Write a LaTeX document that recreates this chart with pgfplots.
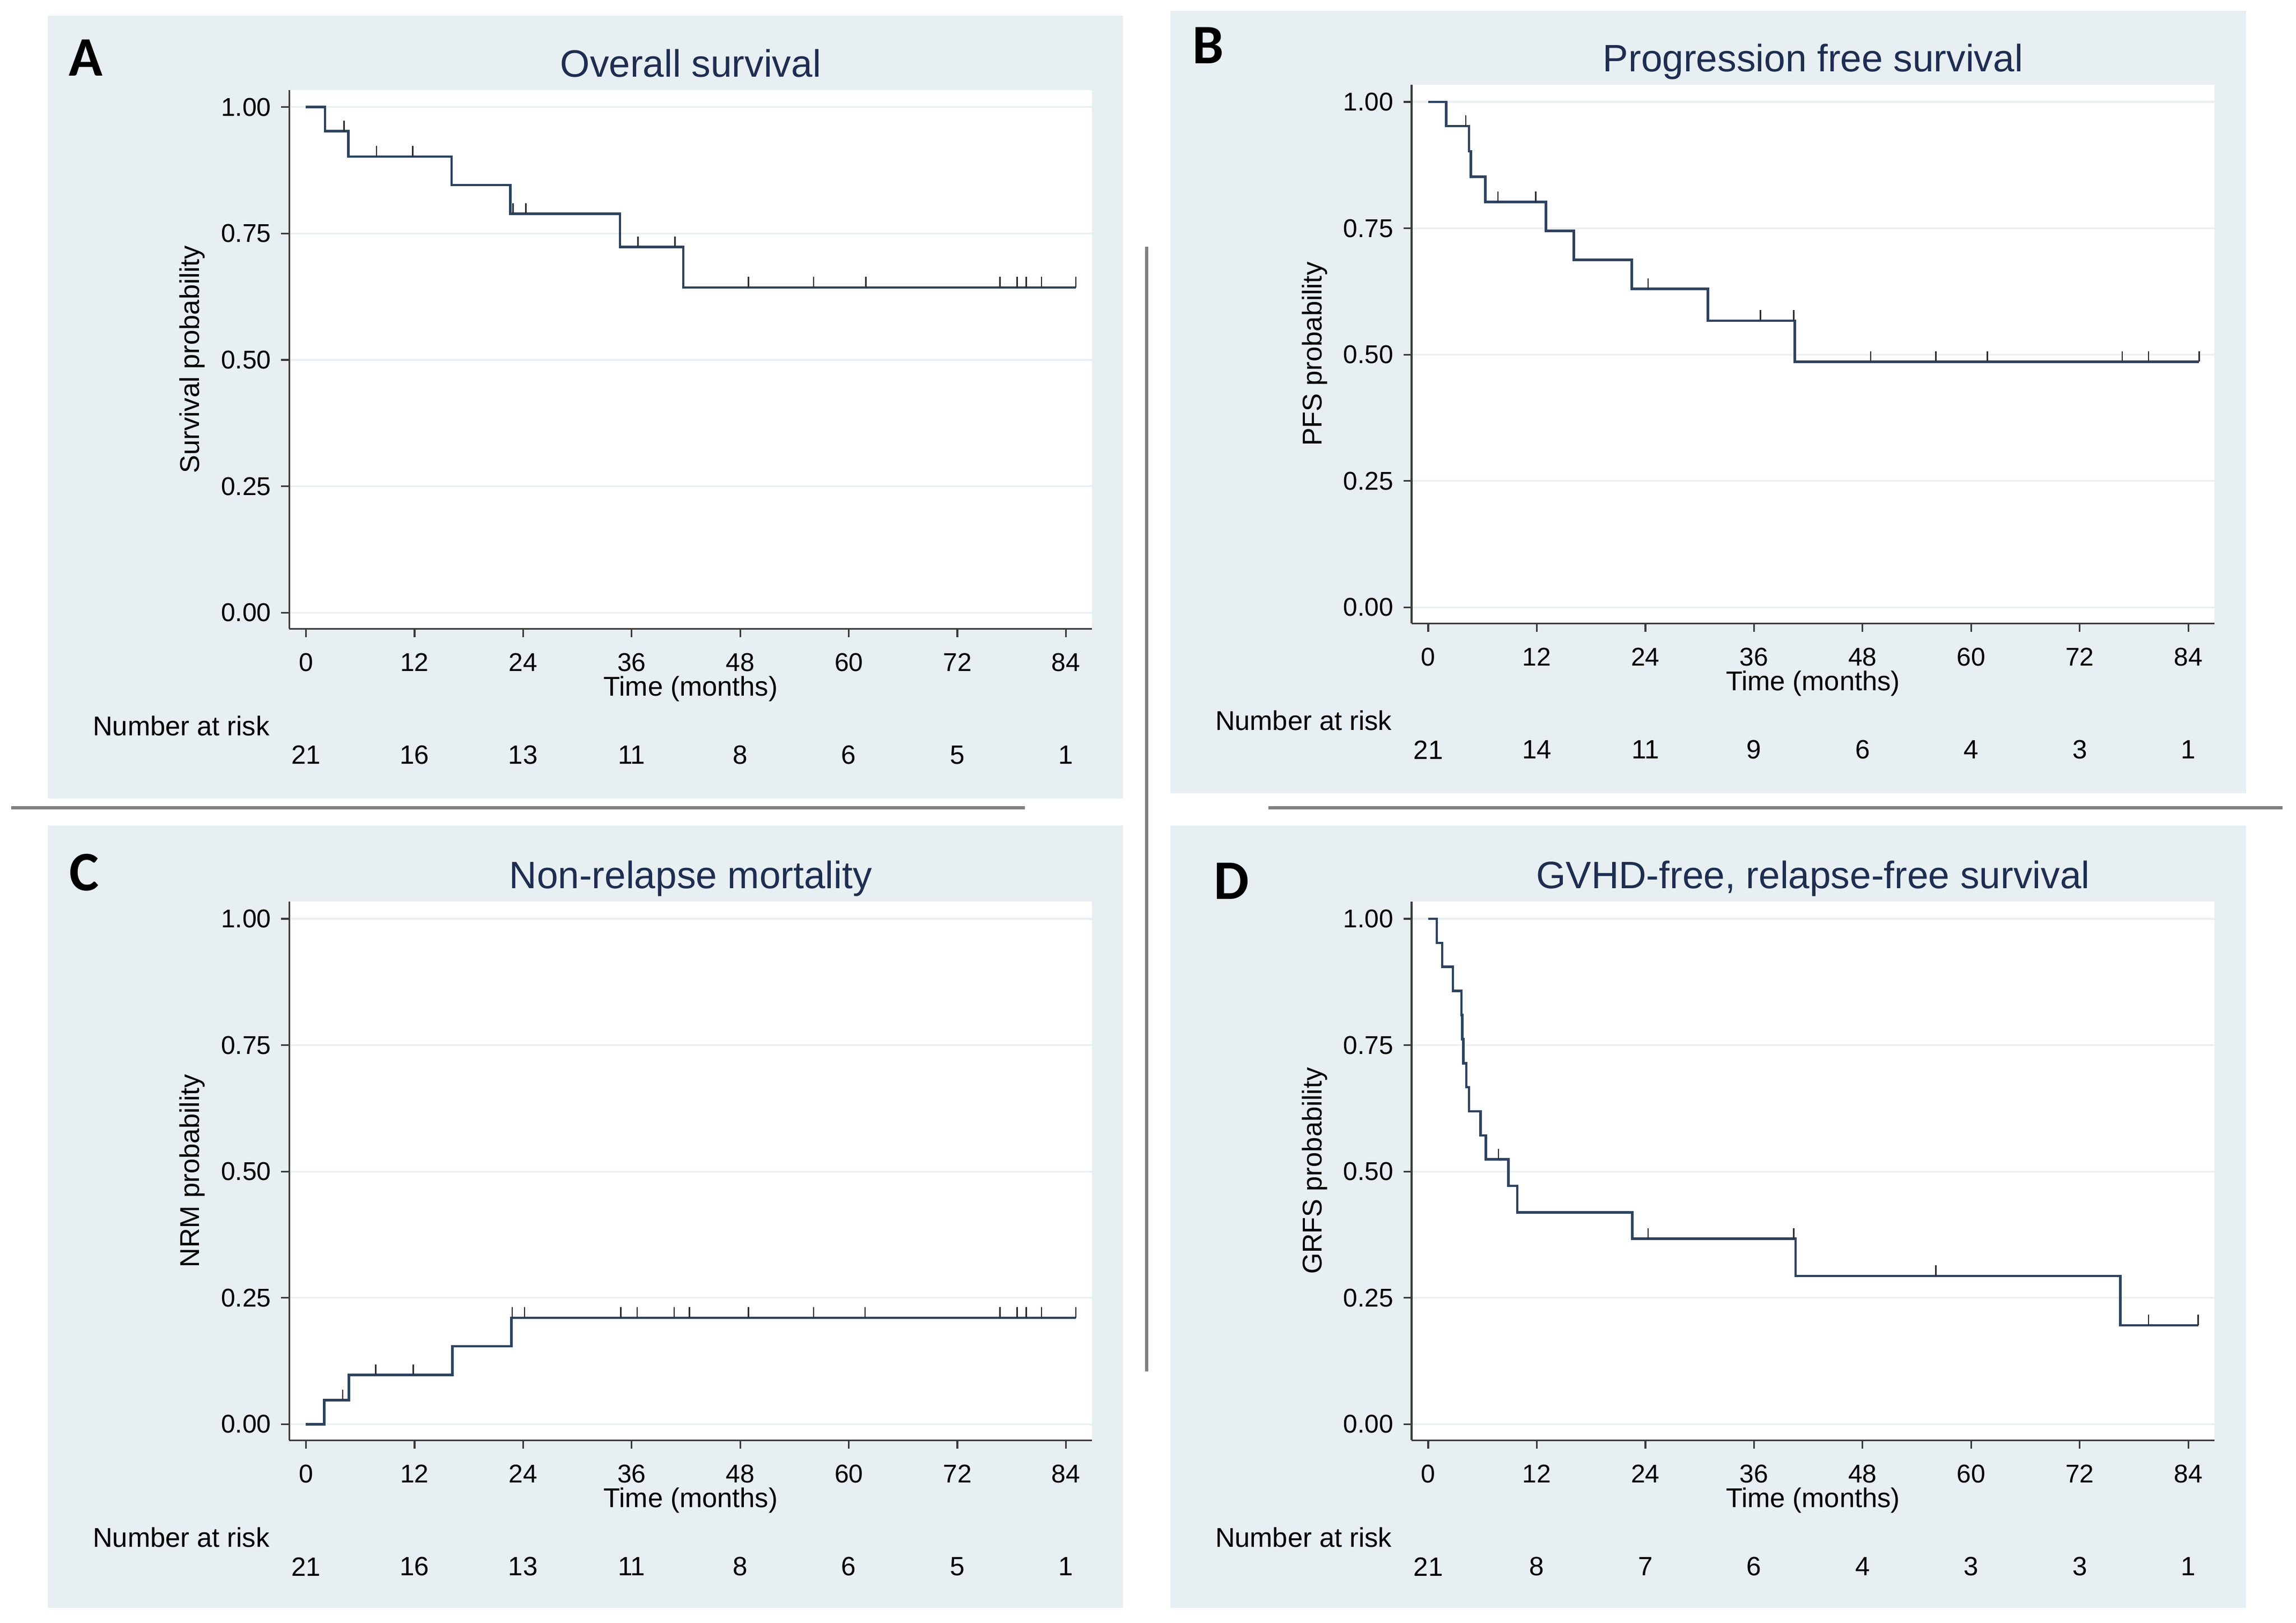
\documentclass[border=0pt]{standalone}
\usepackage{fontspec}
\setmainfont{Liberation Sans}
\newfontfamily\carlito{Carlito}
\usepackage{pgfplots}
\usepackage{pgfplotstable}
\pgfplotsset{compat=1.18}

\definecolor{panelbg}{RGB}{232,239,242}
\definecolor{gridc}{RGB}{234,239,242}
\definecolor{kmline}{RGB}{46,67,95}
\definecolor{axisc}{RGB}{60,60,60}
\definecolor{titlec}{RGB}{30,45,80}
\definecolor{sepc}{RGB}{128,128,128}
\definecolor{censc}{RGB}{45,45,50}

% ---------- data ----------
\pgfplotstableread{
t s
0 1.00000
2.1 0.95238
4.7 0.90226
16.1 0.84586
22.6 0.78947
34.7 0.72368
41.7 0.64327
85.1 0.64327
}\osA
\pgfplotstableread{
t s
4.2 0.95238
7.8 0.90226
11.8 0.90226
22.9 0.78947
24.3 0.78947
36.7 0.72368
40.8 0.72368
48.9 0.64327
56.1 0.64327
61.9 0.64327
76.7 0.64327
78.6 0.64327
79.6 0.64327
81.3 0.64327
85.1 0.64327
}\osAc
\pgfplotstableread{
t s
0 1.00000
2.0 0.95238
4.5 0.90226
4.7 0.85213
6.3 0.80201
13.0 0.74472
16.1 0.68744
22.5 0.63015
30.9 0.56714
40.5 0.48612
85.2 0.48612
}\pfsB
\pgfplotstableread{
t s
4.15 0.95238
7.7 0.80201
11.9 0.80201
24.3 0.63015
36.7 0.56714
40.4 0.56714
48.9 0.48612
56.1 0.48612
61.8 0.48612
76.7 0.48612
79.6 0.48612
85.2 0.48612
}\pfsBc
\pgfplotstableread{
t s
0 0.00000
2.0 0.04762
4.76 0.09774
16.2 0.15414
22.7 0.21053
85.1 0.21053
}\nrmC
\pgfplotstableread{
t s
4.06 0.04762
7.7 0.09774
11.85 0.09774
22.8 0.21053
24.15 0.21053
34.8 0.21053
36.6 0.21053
40.7 0.21053
42.4 0.21053
48.9 0.21053
56.1 0.21053
61.8 0.21053
76.7 0.21053
78.6 0.21053
79.6 0.21053
81.3 0.21053
85.1 0.21053
}\nrmCc
\pgfplotstableread{
t s
0 1.00000
0.94 0.95238
1.53 0.90476
2.73 0.85714
3.67 0.80952
3.75 0.76190
3.87 0.71429
4.2 0.66667
4.5 0.61905
5.78 0.57143
6.38 0.52381
8.85 0.47143
9.84 0.41905
22.56 0.36667
40.6 0.29333
76.5 0.19556
85.1 0.19556
}\grfsD
\pgfplotstableread{
t s
7.76 0.52381
24.3 0.36667
40.4 0.36667
56.1 0.29333
79.6 0.19556
85.1 0.19556
}\grfsDc

\pgfdeclareplotmark{cens}{%
  \pgfpathmoveto{\pgfpointorigin}%
  \pgfpathlineto{\pgfpoint{0pt}{3.6pt}}%
  \pgfusepathqstroke}

\tikzset{
  titlenode/.style={anchor=base, inner sep=0pt, text=titlec,
    font=\fontsize{13}{15}\selectfont},
  risklab/.style={anchor=west, inner sep=0pt, font=\fontsize{9.25}{11}\selectfont},
  risknum/.style={anchor=center, inner sep=0pt, font=\fontsize{9}{11}\selectfont},
  letter/.style={font=\carlito\bfseries\fontsize{19}{22}\selectfont, inner sep=0pt},
}

\pgfplotsset{
  km/.style={
    scale only axis, width=273.5pt, height=183.5pt,
    xmin=-1.85, xmax=86.9, ymin=-0.032, ymax=1.034,
    axis x line*=bottom, axis y line*=left,
    axis line style={draw=axisc, line width=0.6pt, -},
    xtick={0,12,24,36,48,60,72,84},
    ytick={0,0.25,0.5,0.75,1},
    yticklabel style={/pgf/number format/fixed,
      /pgf/number format/precision=2,
      /pgf/number format/fixed zerofill,
      anchor=east, inner sep=0pt, xshift=-3.2pt},
    xticklabel style={anchor=north, inner sep=0pt, yshift=-5.4pt},
    /pgf/number format/assume math mode=true,
    ticklabel style={font=\fontsize{8.75}{10}\selectfont, text=black},
    ymajorgrids, grid style={draw=gridc, line width=0.6pt},
    tick style={draw=axisc, line width=0.6pt},
    tick align=outside, major tick length=2.8pt,
    axis background/.style={fill=white},
    clip=false,
    xlabel={Time (months)},
    xlabel style={at={(axis description cs:0.5,-0.1117)}, anchor=center,
      font=\fontsize{9.25}{11}\selectfont, inner sep=0pt},
    ylabel style={at={(axis description cs:-0.1207,0.5)}, anchor=center,
      font=\fontsize{9.25}{11}\selectfont, inner sep=0pt},
  },
}

\newcommand{\riskrow}[8]{%
  \node[risklab] at (axis cs:-23.6,-0.2236) {Number at risk};
  \node[risknum] at (axis cs:0,-0.2817) {#1};
  \node[risknum] at (axis cs:12,-0.2817) {#2};
  \node[risknum] at (axis cs:24,-0.2817) {#3};
  \node[risknum] at (axis cs:36,-0.2817) {#4};
  \node[risknum] at (axis cs:48,-0.2817) {#5};
  \node[risknum] at (axis cs:60,-0.2817) {#6};
  \node[risknum] at (axis cs:72,-0.2817) {#7};
  \node[risknum] at (axis cs:84,-0.2817) {#8};
}

\begin{document}
\begin{tikzpicture}
\useasboundingbox (0,0) rectangle (782pt,552.6pt);
\fill[white] (0,0) rectangle (782pt,552.6pt);
% panel backgrounds
\fill[panelbg] (16.25pt,280.65pt) rectangle (382.5pt,547.25pt);
\fill[panelbg] (398.5pt,282.5pt) rectangle (765pt,549pt);
\fill[panelbg] (16.25pt,5pt) rectangle (382.5pt,271.5pt);
\fill[panelbg] (398.5pt,5pt) rectangle (765pt,271.5pt);
% separators
\draw[sepc, line width=1.1pt] (3.75pt,277.5pt) -- (349pt,277.5pt);
\draw[sepc, line width=1.1pt] (432pt,277.5pt) -- (777.5pt,277.5pt);
\draw[sepc, line width=1.1pt] (390.5pt,468.5pt) -- (390.5pt,85.5pt);
% panel letters
\node[letter] at (29.3pt,532.9pt) {A};
\node[letter] at (411.5pt,537.2pt) {B};
\node[letter] at (28.65pt,255.5pt) {C};
\node[letter] at (419.5pt,252.5pt) {D};

% A
\begin{axis}[km, at={(98.5pt,338.45pt)}, ylabel={Survival probability}]
\addplot[const plot, draw=kmline, line width=0.85pt] table[x=t,y=s] {\osA};
\addplot[only marks, mark=cens, mark options={draw=censc, line width=0.5pt}] table[x=t,y=s] {\osAc};
\node[titlenode] at (axis cs:42.525,1.06) {Overall survival};
\riskrow{21}{16}{13}{11}{8}{6}{5}{1}
\end{axis}

% B
\begin{axis}[km, at={(480.75pt,340.25pt)}, ylabel={PFS probability}]
\addplot[const plot, draw=kmline, line width=0.85pt] table[x=t,y=s] {\pfsB};
\addplot[only marks, mark=cens, mark options={draw=censc, line width=0.5pt}] table[x=t,y=s] {\pfsBc};
\node[titlenode] at (axis cs:42.525,1.06) {Progression free survival};
\riskrow{21}{14}{11}{9}{6}{4}{3}{1}
\end{axis}

% C
\begin{axis}[km, at={(98.5pt,62.05pt)}, ylabel={NRM probability}]
\addplot[const plot, draw=kmline, line width=0.85pt] table[x=t,y=s] {\nrmC};
\addplot[only marks, mark=cens, mark options={draw=censc, line width=0.5pt}] table[x=t,y=s] {\nrmCc};
\node[titlenode] at (axis cs:42.525,1.06) {Non-relapse mortality};
\riskrow{21}{16}{13}{11}{8}{6}{5}{1}
\end{axis}

% D
\begin{axis}[km, at={(480.75pt,62.05pt)}, ylabel={GRFS probability}]
\addplot[const plot, draw=kmline, line width=0.85pt] table[x=t,y=s] {\grfsD};
\addplot[only marks, mark=cens, mark options={draw=censc, line width=0.5pt}] table[x=t,y=s] {\grfsDc};
\node[titlenode] at (axis cs:42.525,1.06) {GVHD-free, relapse-free survival};
\riskrow{21}{8}{7}{6}{4}{3}{3}{1}
\end{axis}
\end{tikzpicture}
\end{document}
